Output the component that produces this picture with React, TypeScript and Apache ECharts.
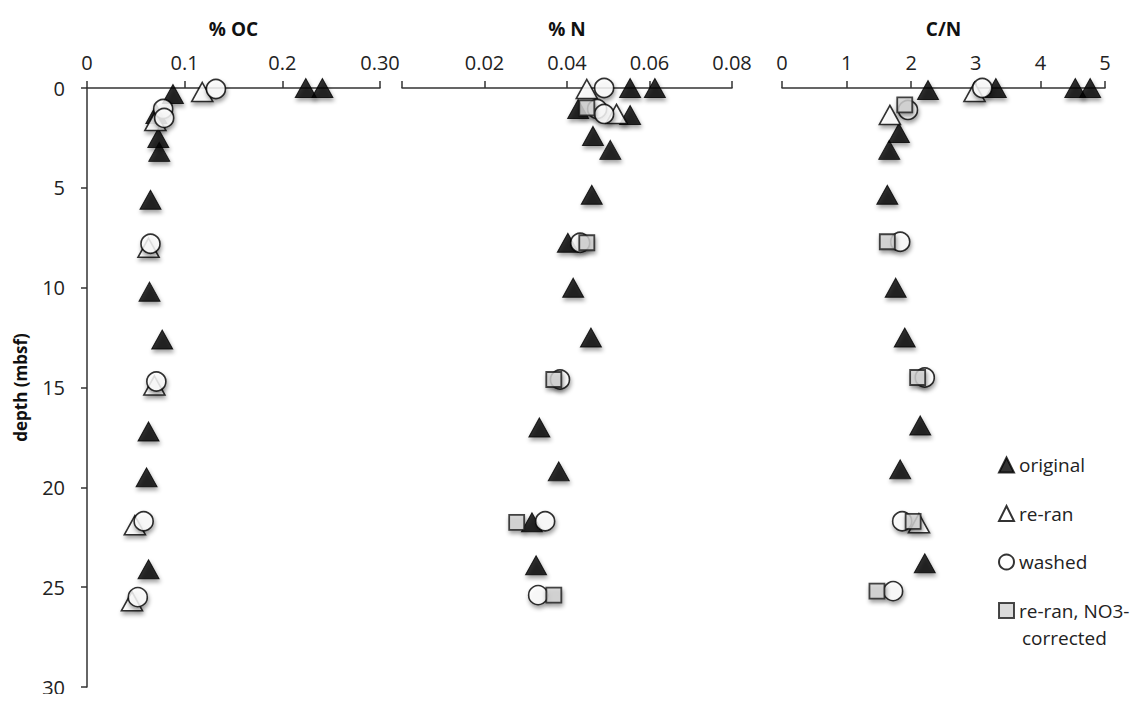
import React, { useEffect, useRef } from "react";
import * as echarts from "echarts";

// [value, depth (mbsf)]
const ocOriginal = [[0.224, 0], [0.241, 0], [0.088, 0.3], [0.071, 1.3], [0.073, 2.5], [0.074, 3.2], [0.065, 5.6], [0.064, 10.2], [0.077, 12.6], [0.063, 17.2], [0.061, 19.5], [0.063, 24.1]];
const ocReran = [[0.118, 0.2], [0.070, 1.65], [0.063, 8.0], [0.069, 14.9], [0.049, 21.9], [0.046, 25.7]];
const ocWashed = [[0.132, 0.05], [0.078, 1.05], [0.079, 1.5], [0.065, 7.8], [0.071, 14.7], [0.058, 21.7], [0.052, 25.5]];

const nOriginal = [[0.0553, 0], [0.0613, 0], [0.0427, 1.05], [0.0553, 1.35], [0.0463, 2.4], [0.0505, 3.1], [0.046, 5.35], [0.0402, 7.75], [0.0415, 10.0], [0.0458, 12.5], [0.0333, 17.0], [0.038, 19.2], [0.0315, 21.75], [0.0325, 23.9]];
const nReran = [[0.0448, 0.05], [0.052, 1.3]];
const nWashed = [[0.049, 0], [0.0473, 1.05], [0.049, 1.3], [0.0432, 7.75], [0.0383, 14.6], [0.0347, 21.7], [0.033, 25.4]];
const nCorrected = [[0.0448, 1.0], [0.0448, 7.75], [0.0368, 14.6], [0.0278, 21.75], [0.0368, 25.4]];

const cnOriginal = [[3.31, 0], [4.54, 0], [4.77, 0], [2.26, 0.1], [1.81, 2.25], [1.66, 3.1], [1.63, 5.35], [1.76, 10.0], [1.9, 12.5], [2.14, 16.9], [1.83, 19.1], [2.21, 23.8]];
const cnReran = [[2.98, 0.2], [1.67, 1.35], [2.12, 21.8]];
const cnWashed = [[3.1, 0], [1.95, 1.1], [1.83, 7.7], [2.21, 14.5], [1.86, 21.7], [1.72, 25.2]];
const cnCorrected = [[1.9, 0.85], [1.63, 7.7], [2.1, 14.5], [2.03, 21.7], [1.47, 25.2]];

const ocTickLabels: Record<string, string> = { "0": "0", "0.1": "0.1", "0.2": "0.2", "0.3": "0.30" };
const panelTitles = ["% OC", "% N", "C/N"];
const seriesNames = ["original", "re-ran", "washed", "re-ran, NO3-corrected"];

const FONT = "'Open Sans', sans-serif";

export default function App() {
  const ref = useRef<HTMLDivElement>(null);
  useEffect(() => {
    const chart = echarts.init(ref.current!, null, { renderer: "svg" });
    const shadow = { shadowColor: "rgba(0,0,0,0.45)", shadowBlur: 4, shadowOffsetX: 1, shadowOffsetY: 3 };
    const styles = [
      { symbol: "triangle", symbolSize: [21, 19], itemStyle: { color: "#000", borderColor: "#000", borderWidth: 1, ...shadow } },
      { symbol: "triangle", symbolSize: [21, 19], itemStyle: { color: "#fff", borderColor: "#000", borderWidth: 1.6, ...shadow } },
      { symbol: "circle", symbolSize: 19, itemStyle: { color: "#fff", borderColor: "#000", borderWidth: 1.6, ...shadow } },
      { symbol: "rect", symbolSize: 15, itemStyle: { color: "#d2d2d2", borderColor: "#1a1a1a", borderWidth: 1.8, ...shadow } },
    ];
    const panels = [
      [ocOriginal, ocReran, ocWashed, []],
      [nOriginal, nReran, nWashed, nCorrected],
      [cnOriginal, cnReran, cnWashed, cnCorrected],
    ];
    const series: any[] = [];
    panels.forEach((p, gi) => {
      p.forEach((d, si) => {
        series.push({
          type: "scatter",
          name: seriesNames[si],
          xAxisIndex: gi,
          yAxisIndex: gi,
          data: d,
          ...styles[si],
          z: 2 + si,
        });
      });
    });
    const xAxisBase = (gi: number, min: number, max: number, interval: number, fmt: (v: number) => string) => ({
      type: "value",
      gridIndex: gi,
      position: "top",
      min,
      max,
      interval,
      name: panelTitles[gi],
      nameLocation: "middle",
      nameGap: 50,
      nameTextStyle: { fontFamily: FONT, fontSize: 19, fontWeight: "bold", color: "#111" },
      splitLine: { show: false },
      axisLine: { show: true, lineStyle: { color: "#333", width: 1.5 } },
      axisTick: { show: true, length: 7, lineStyle: { color: "#333", width: 1.5 } },
      axisLabel: { margin: 16, fontFamily: FONT, fontSize: 20, color: "#222", formatter: fmt },
    });
    const yAxisBase = (gi: number, show: boolean) => ({
      type: "value",
      gridIndex: gi,
      inverse: true,
      min: 0,
      max: 30,
      interval: 5,
      show,
      name: show ? "depth (mbsf)" : "",
      nameLocation: "middle",
      nameGap: 58,
      nameTextStyle: { fontFamily: FONT, fontSize: 17, fontWeight: "bold", color: "#111" },
      splitLine: { show: false },
      axisLine: { show: true, onZero: false, lineStyle: { color: "#333", width: 1.5 } },
      axisTick: { show: true, length: 6, lineStyle: { color: "#333", width: 1.5 } },
      axisLabel: { margin: 22, fontFamily: FONT, fontSize: 20, color: "#222" },
    });
    chart.setOption({
      animation: false,
      backgroundColor: "#fff",
      grid: [
        { left: 87, top: 88, width: 293, height: 599 },
        { left: 402, top: 88, width: 330, height: 599 },
        { left: 782, top: 88, width: 323, height: 599 },
      ],
      xAxis: [
        xAxisBase(0, 0, 0.3, 0.1, (v: number) => ocTickLabels[String(+v.toFixed(2))] ?? String(v)),
        xAxisBase(1, 0, 0.08, 0.02, (v: number) => (v === 0 ? "" : v.toFixed(2))),
        xAxisBase(2, 0, 5, 1, (v: number) => String(v)),
      ],
      yAxis: [yAxisBase(0, true), yAxisBase(1, false), yAxisBase(2, false)],
      legend: {
        orient: "vertical",
        left: 998,
        top: 453,
        padding: 0,
        itemGap: 24.5,
        itemWidth: 15,
        itemHeight: 15,
        data: seriesNames,
        formatter: (n: string) => (n === "re-ran, NO3-corrected" ? "re-ran, NO3-" : n),
        textStyle: { fontFamily: FONT, fontSize: 19, lineHeight: 24, color: "#222", padding: [0, 0, 0, 0] },
      },
      graphic: [
        {
          type: "text",
          x: 1022,
          y: 638,
          style: { text: "corrected", font: `19px ${FONT}`, fill: "#222", verticalAlign: "middle" },
        },
      ],
      series,
    });
    return () => chart.dispose();
  }, []);
  return <div ref={ref} style={{ width: 1147, height: 702, margin: -8 }} />;
}
